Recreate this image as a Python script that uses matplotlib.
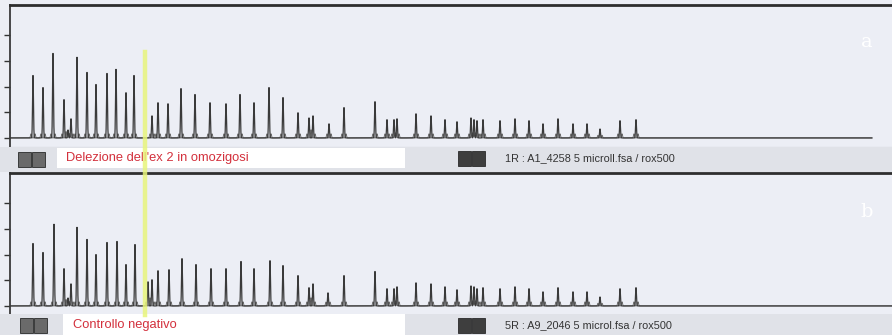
import matplotlib.pyplot as plt
from matplotlib.patches import Rectangle
from matplotlib.lines import Line2D
import numpy as np

# peak positions (scan units) and heights (RFU)
pos_a = [33, 43, 53, 64, 68, 71, 77, 87, 96, 107, 116, 126, 134, 152, 158, 168,
         181, 195, 210, 226, 240, 254, 269, 283, 298, 309, 313, 329, 344, 375,
         387, 394, 397, 416, 431, 445, 457, 471, 474, 477, 483, 500, 515, 529,
         543, 558, 573, 587, 600, 620, 636]
rfu_a = [2430, 1960, 3290, 1490, 310, 745, 3140, 2550, 2080, 2510, 2670, 1760,
         2430, 860, 1370, 1330, 1920, 1690, 1370, 1330, 1690, 1370, 1960, 1570,
         980, 780, 860, 550, 1180, 1410, 710, 710, 745, 940, 860, 710, 630,
         780, 710, 670, 710, 670, 745, 670, 550, 745, 550, 550, 350, 670, 710]

pos_b = [33, 43, 54, 64, 68, 71, 77, 87, 96, 107, 117, 126, 135, 148, 152, 158,
         169, 182, 196, 211, 226, 241, 254, 270, 283, 298, 309, 313, 328, 344,
         375, 387, 394, 397, 416, 431, 445, 457, 471, 474, 477, 483, 500, 515,
         529, 543, 558, 573, 587, 600, 620, 636]
rfu_b = [2430, 2080, 3180, 1450, 310, 860, 3060, 2590, 2000, 2470, 2510, 1610,
         2390, 940, 1020, 1370, 1410, 1840, 1610, 1450, 1450, 1730, 1450, 1760,
         1570, 1180, 710, 860, 510, 1180, 1340, 670, 670, 745, 900, 860, 745,
         630, 780, 745, 670, 710, 670, 745, 670, 550, 710, 550, 550, 350, 670,
         710]

label_a = "Delezione dell'ex 2 in omozigosi"
label_b = "Controllo negativo"
file_a = "1R : A1_4258 5 microll.fsa / rox500"
file_b = "5R : A9_2046 5 microl.fsa / rox500"
rfu_ticks = [0, 1000, 2000, 3000, 4000]

W, H = 892, 335
bg = "#eceef5"
strip = "#e0e2e8"
trace_col = "#3a3a3a"


def trace(ax, pos, rfu, x_end):
    x = np.arange(10, x_end, 0.1)
    y = np.zeros_like(x)
    lobes = np.zeros_like(x)
    for p, h in zip(pos, rfu):
        y += h * np.exp(-((x - p) ** 2) / (2 * 0.45 ** 2))
        lobe = min(h * 0.3, 160)
        for d in (-2.0, 2.0):
            lobes += lobe * np.exp(-((x - p - d) ** 2) / (2 * 0.5 ** 2))
    ax.plot(x, lobes, color="#6a6a6a", lw=0.7)
    ax.plot(x, y, color=trace_col, lw=0.9)


def px(x, y):
    return x / W, 1 - y / H


fig = plt.figure(figsize=(W / 100, H / 100), dpi=100, facecolor=bg)

# label strips
for y0, y1 in [(147, 172), (314, 335)]:
    fig.patches.append(Rectangle(px(0, y1), 1, (y1 - y0) / H, transform=fig.transFigure,
                                 facecolor=strip, edgecolor="none", zorder=0))
for x0, y0, x1, y1 in [(57, 148, 405, 168), (63, 314, 405, 335)]:
    fig.patches.append(Rectangle(px(x0, y1), (x1 - x0) / W, (y1 - y0) / H,
                                 transform=fig.transFigure, facecolor="white",
                                 edgecolor="none", zorder=1))
for x0, y0, c in [(18, 152, "#6a6a6a"), (458, 151, "#3e3e3e"),
                  (20, 318, "#6a6a6a"), (458, 318, "#3e3e3e")]:
    for k in range(2):
        fig.patches.append(Rectangle(px(x0 + k * 14, y0 + 15), 13 / W, 15 / H,
                                     transform=fig.transFigure, facecolor=c,
                                     edgecolor="#2a2a2a", lw=0.6, zorder=2))

axes = []
for (top, pos, rfu, x_end, letter, ly) in [(5, pos_a, rfu_a, 872, "a", 42),
                                            (173, pos_b, rfu_b, 892, "b", 212)]:
    ax = fig.add_axes([10 / W, 1 - (top + 142) / H, 882 / W, 142 / H])
    ax.set_facecolor(bg)
    trace(ax, pos, rfu, x_end)
    ax.set_xlim(10, 892)
    ax.set_ylim(-353, 5176)
    ax.set_xticks([])
    ax.set_yticks(rfu_ticks)
    ax.set_yticklabels([])
    ax.tick_params(axis="y", direction="out", length=4, width=1, color="#333333")
    ax.spines["right"].set_visible(False)
    ax.spines["top"].set_linewidth(2)
    ax.spines["top"].set_color("#2e2e2e")
    ax.spines["left"].set_linewidth(1.3)
    ax.spines["left"].set_color("#3a3a3a")
    ax.spines["bottom"].set_linewidth(0.8)
    ax.spines["bottom"].set_color("#b4b6bc")
    fig.text(*px(867, ly), letter, color="white", fontsize=14, family="DejaVu Serif",
             ha="center", va="center")
    axes.append(ax)

fig.text(*px(66, 158), label_a, color="#d3303c", fontsize=9.3,
         family="Liberation Sans", va="center", zorder=3)
fig.text(*px(73, 325), label_b, color="#d3303c", fontsize=9.3,
         family="Liberation Sans", va="center", zorder=3)
fig.text(*px(505, 158), file_a, color="#333333", fontsize=7.8,
         family="Liberation Sans", va="center", zorder=3)
fig.text(*px(505, 325), file_b, color="#333333", fontsize=7.8,
         family="Liberation Sans", va="center", zorder=3)

# highlighted marker line across both panels
fig.lines.append(Line2D([145 / W, 145 / W], [1 - 315 / H, 1 - 52 / H],
                        transform=fig.transFigure, color="#e8f57c", lw=3.2,
                        alpha=0.85, zorder=5))

fig.savefig("out.png", dpi=100, facecolor=bg)
